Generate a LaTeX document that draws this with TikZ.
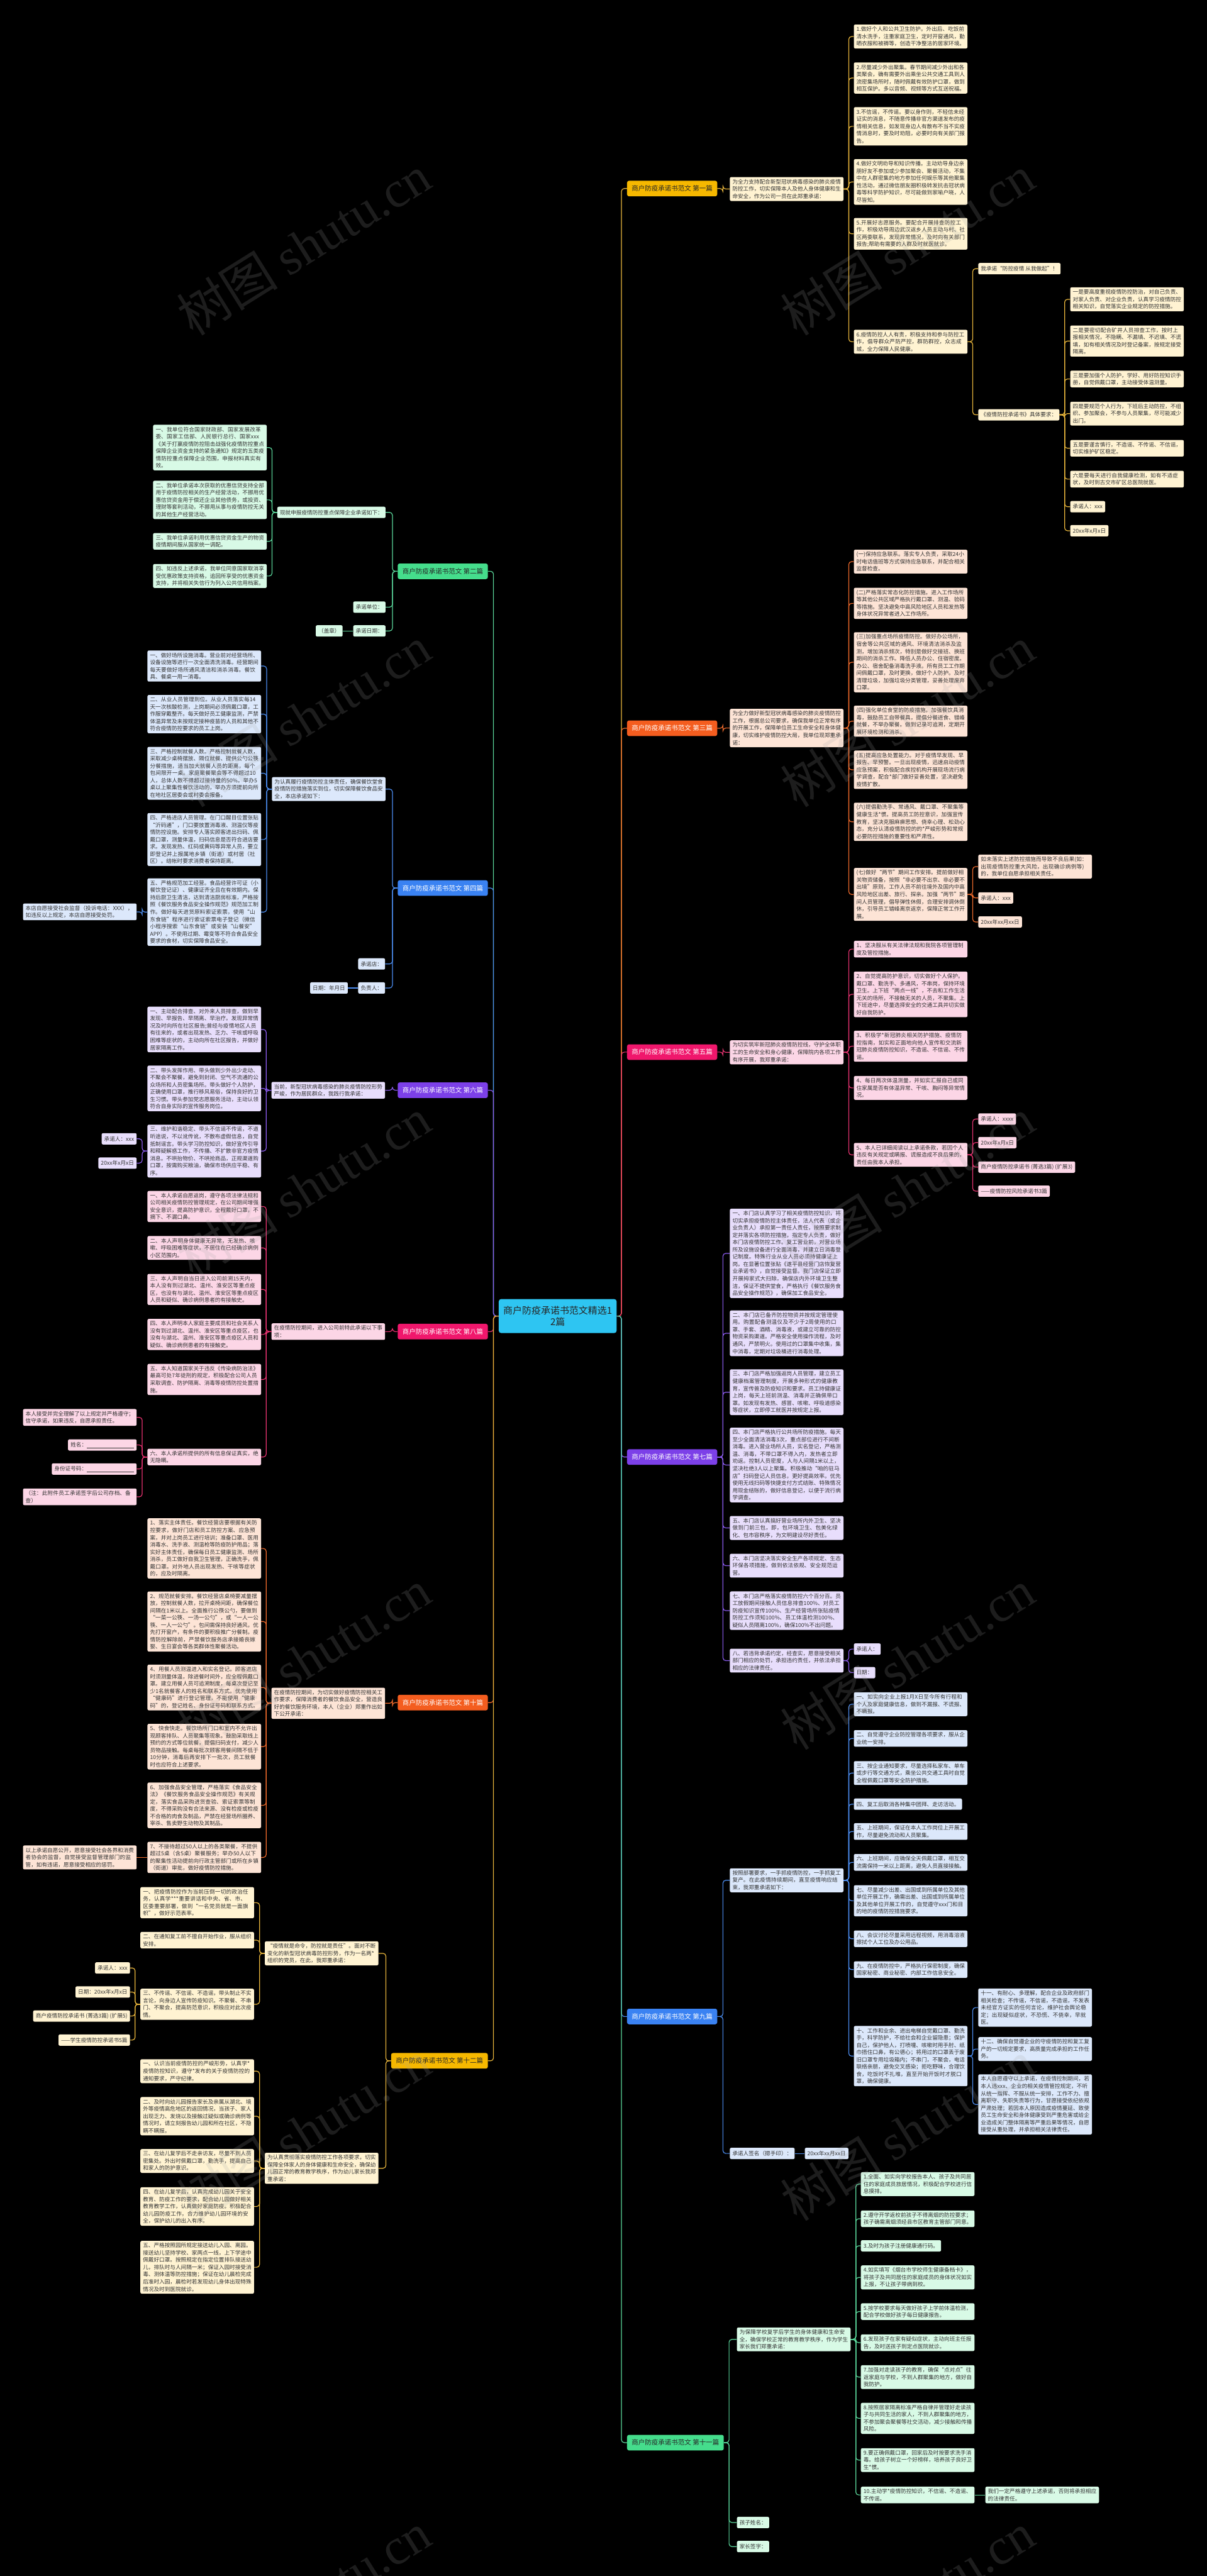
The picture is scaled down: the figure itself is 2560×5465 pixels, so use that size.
\documentclass[tikz,border=0pt]{standalone}
\usepackage{fontspec}
\setmainfont{Noto Sans CJK SC}
\newfontfamily\wmfont{Liberation Serif}
\XeTeXlinebreaklocale "zh"
\XeTeXlinebreakskip=0pt plus 1pt
\usetikzlibrary{positioning}
\definecolor{rootc}{HTML}{2EC5F2}
\definecolor{goldc}{HTML}{F6B800}
\definecolor{goldl}{HTML}{E9B63C}
\definecolor{goldf}{HTML}{FFF3D2}
\definecolor{greenc}{HTML}{45DD8C}
\definecolor{greenl}{HTML}{5AD69A}
\definecolor{greenf}{HTML}{D8FAE6}
\definecolor{orangec}{HTML}{F45D1F}
\definecolor{orangel}{HTML}{F06B2C}
\definecolor{orangef}{HTML}{FDE4D6}
\definecolor{bluec}{HTML}{3A82F2}
\definecolor{bluel}{HTML}{4C8DF0}
\definecolor{bluef}{HTML}{DCE8FB}
\definecolor{pinkc}{HTML}{F0176C}
\definecolor{pinkl}{HTML}{E63270}
\definecolor{pinkf}{HTML}{FCD6E6}
\definecolor{purplec}{HTML}{7C40E8}
\definecolor{purplel}{HTML}{8C5CF0}
\definecolor{purplef}{HTML}{E8DEFC}

\begin{document}
\begin{tikzpicture}[x=1pt,y=-1pt,
root/.style={fill=rootc,rounded corners=5pt,text=black!85,align=center,
font=\fontsize{20}{25}\selectfont,minimum width=250pt,minimum height=72pt,inner sep=4pt},
lab/.style={fill=#1,rounded corners=4pt,font=\fontsize{14}{17}\selectfont,
inner xsep=10pt,minimum height=33pt,text=white},
leaf/.style={fill=#1,rounded corners=3pt,font=\fontsize{11.5}{15.4}\selectfont,
text width=230pt,inner xsep=5.5pt,inner ysep=4.5pt,align=left,text=black!80},
tag/.style={fill=#1,rounded corners=3pt,font=\fontsize{11.5}{15.4}\selectfont,
inner xsep=5.5pt,inner ysep=4.5pt,minimum height=24pt,text=black!80},
ln/.style={draw=#1,line width=1.6pt,rounded corners=6pt},
wmark/.style={rotate=32,text=gray!70,opacity=0.18,font=\fontsize{108}{108}\selectfont}
]
\fill[black] (0,0) rectangle (2560,5465);
\useasboundingbox (0,0) rectangle (2560,5465);

\node[root] (root) at (1183,2792) {商户防疫承诺书范文精选1\\2篇};

% right branches
\node[lab=goldc,text=black!85,anchor=west] (b1) at (1330,400) {商户防疫承诺书范文 第一篇};
\node[lab=orangec,anchor=west] (b3) at (1330,1545) {商户防疫承诺书范文 第三篇};
\node[lab=pinkc,anchor=west] (b5) at (1330,2232) {商户防疫承诺书范文 第五篇};
\node[lab=purplec,anchor=west] (b7) at (1330,3091) {商户防疫承诺书范文 第七篇};
\node[lab=bluec,anchor=west] (b9) at (1330,4278) {商户防疫承诺书范文 第九篇};
\node[lab=greenc,text=black!85,anchor=west] (b11) at (1330,5182) {商户防疫承诺书范文 第十一篇};

% left branches
\node[lab=greenc,text=black!85,anchor=east] (b2) at (1035,1212) {商户防疫承诺书范文 第二篇};
\node[lab=bluec,anchor=east] (b4) at (1035,1884) {商户防疫承诺书范文 第四篇};
\node[lab=purplec,anchor=east] (b6) at (1035,2313) {商户防疫承诺书范文 第六篇};
\node[lab=pinkc,anchor=east] (b8) at (1035,2825) {商户防疫承诺书范文 第八篇};
\node[lab=orangec,anchor=east] (b10) at (1035,3612) {商户防疫承诺书范文 第十篇};
\node[lab=goldc,text=black!85,anchor=east] (b12) at (1035,4372) {商户防疫承诺书范文 第十二篇};

\foreach \b/\c in {b1/goldl,b3/orangel,b5/pinkl,b7/purplel,b9/bluel,b11/greenl}
  \draw[ln=\c] (root.east) -- ++(10,0) |- (\b.west);
\foreach \b/\c in {b2/greenl,b4/bluel,b6/purplel,b8/pinkl,b10/orangel,b12/goldl}
  \draw[ln=\c] (root.west) -- ++(-11,0) |- (\b.east);

% 第一篇
\node[leaf=goldf,anchor=west] (p1) at (1548,401) {为全力支持配合新型冠状病毒感染的肺炎疫情防控工作，切实保障本人及他人身体健康和生命安全，作为公司一员在此郑重承诺：};
\node[leaf=goldf,anchor=west] (p1a) at (1811,77.5) {1.做好个人和公共卫生防护。外出后、吃饭前清水洗手，注重家庭卫生，定时开窗通风，勤晒衣服和被褥等，创造干净整洁的居家环境。};
\node[leaf=goldf,anchor=west] (p1b) at (1811,165.5) {2.尽量减少外出聚集。春节期间减少外出和各类聚会，确有需要外出乘坐公共交通工具到人流密集场所时，随时佩戴有效防护口罩，做到相互保护。多以音频、视频等方式互送祝福。};
\node[leaf=goldf,anchor=west] (p1c) at (1811,268) {3.不信谣，不传谣。要以身作则，不轻信未经证实的消息，不随意传播非官方渠道发布的疫情相关信息，如发现身边人有散布不当不实疫情消息时，要及时劝阻，必要时向有关部门报告。};
\node[leaf=goldf,anchor=west] (p1d) at (1811,386) {4.做好文明劝导和知识传播。主动劝导身边亲朋好友不参加或少参加聚会、聚餐活动，不集中在人群密集的地方参加任何娱乐等其他聚集性活动，通过微信朋友圈积极转发抗击冠状病毒等科学防护知识，尽可能做到家喻户晓，人尽皆知。};
\node[leaf=goldf,anchor=west] (p1e) at (1811,496) {5.开展好志愿服务。要配合开展排查防控工作，积极劝导周边武汉返乡人员主动与村、社区两委联系，发现异常情况，及时向有关部门报告;帮助有需要的人群及时就医就诊。};
\node[leaf=goldf,anchor=west] (p1f) at (1811,725) {6.疫情防控人人有责，积极支持和参与防控工作，倡导群众严防严控，群防群控，众志成城，全力保障人民健康。};
\node[tag=goldf,anchor=west] (q1a) at (2075,570) {我承诺“防控疫情 从我做起”！};
\node[tag=goldf,anchor=west] (q1b) at (2075,880) {《疫情防控承诺书》具体要求：};
\node[leaf=goldf,anchor=west] (r1a) at (2270,635) {一是要高度重视疫情防控防治，对自己负责、对家人负责、对企业负责，认真学习疫情防控相关知识，自觉落实企业规定的防控措施。};
\node[leaf=goldf,anchor=west] (r1b) at (2270,723.5) {二是要密切配合矿井人员排查工作，按时上报相关情况，不隐瞒、不漏填、不迟填、不谎填，如有相关情况及时登记备案，按规定接受隔离。};
\node[leaf=goldf,anchor=west] (r1c) at (2270,804) {三是要加强个人防护，学好、用好防控知识手册，自觉佩戴口罩，主动接受体温测量。};
\node[leaf=goldf,anchor=west] (r1d) at (2270,877.5) {四是要规范个人行为，下班后主动防控，不组织、参加聚会，不参与人员聚集，尽可能减少出门。};
\node[leaf=goldf,anchor=west] (r1e) at (2270,951) {五是要谨言慎行，不造谣、不传谣、不信谣，切实维护矿区稳定。};
\node[leaf=goldf,anchor=west] (r1f) at (2270,1016.5) {六是要每天进行自我健康检测，如有不适症状，及时到古交市矿区总医院就医。};
\node[tag=goldf,anchor=west] (r1g) at (2270,1075) {承诺人：xxx};
\node[tag=goldf,anchor=west] (r1h) at (2270,1126) {20xx年x月x日};
\draw[ln=goldl] (b1.east) -- ++(12,0) |- (p1.west);
\foreach \n in {p1a,p1b,p1c,p1d,p1e,p1f} \draw[ln=goldl] (p1.east) -- ++(11,0) |- (\n.west);
\foreach \n in {q1a,q1b} \draw[ln=goldl] (p1f.east) -- ++(11,0) |- (\n.west);
\foreach \n in {r1a,r1b,r1c,r1d,r1e,r1f,r1g,r1h} \draw[ln=goldl] (q1b.east) -- ++(11,0) |- (\n.west);

% 第三篇
\node[leaf=orangef,anchor=west] (p3) at (1548,1544.5) {为全力做好新型冠状病毒感染的肺炎疫情防控工作，根据总公司要求，确保我单位正常有序的开展工作，保障单位员工生命安全和身体健康，切实维护疫情防控大局，我单位现郑重承诺：};
\node[leaf=orangef,anchor=west] (p3a) at (1811,1191.5) {(一)保持应急联系。落实专人负责，采取24小时电话值班等方式保持应急联系，并配合相关监督检查。};
\node[leaf=orangef,anchor=west] (p3b) at (1811,1280) {(二)严格落实常态化防控措施。进入工作场所等其他公共区域严格执行戴口罩、测温、验码等措施。坚决避免中高风险地区人员和发热等身体状况异常者进入工作场所。};
\node[leaf=orangef,anchor=west] (p3c) at (1811,1405) {(三)加强重点场所疫情防控。做好办公场所，宿舍等公共区域的通风、环境清洁消杀及监测，增加消杀频次，特别是做好交接班、换班期间的消杀工作。降低人员办公、住宿密度。办公、宿舍配备消毒洗手液。所有员工工作期间佩戴口罩，及时更换，做好个人防护。及时清理垃圾，加强垃圾分类管理，妥善处理废弃口罩。};
\node[leaf=orangef,anchor=west] (p3d) at (1811,1530) {(四)强化单位食堂的防疫措施。加强餐饮具消毒，鼓励员工自带餐具，提倡分餐进食、错峰就餐，不举办聚餐。做到记录可追溯，定期开展环境检测和消杀。};
\node[leaf=orangef,anchor=west] (p3e) at (1811,1633) {(五)提高应急处置能力。对于疫情早发现、早报告、早预警。一旦出现疫情，迅速启动疫情应急预案，积极配合疾控机构开展现场流行病学调查，配合*部门做好妥善处置，坚决避免疫情扩散。};
\node[leaf=orangef,anchor=west] (p3f) at (1811,1743.5) {(六)提倡勤洗手、常通风、戴口罩、不聚集等健康生活*惯。提高员工防控意识，加强宣传教育，坚决克服麻痹思想、侥幸心理、松劲心态，充分认清疫情防控的的*严峻形势和常规必要防控措施的重要性和严肃性。};
\node[leaf=orangef,anchor=west] (p3g) at (1811,1897.5) {(七)做好“两节”期间工作安排。提前做好相关物资储备，按照“非必要不出京、非必要不出境”原则，工作人员不前往境外及国内中高风险地区出差、旅行、探亲。加强“两节”期间人员管理，倡导弹性休假，合理安排调休倒休，引导员工错峰离京返京，保障正常工作开展。};
\node[leaf=orangef,anchor=west] (q3a) at (2075,1838.5) {如未落实上述防控措施而导致不良后果(如：出现疫情防控重大风险，出现确诊病例等)的，我单位自愿承担相关责任。};
\node[tag=orangef,anchor=west] (q3b) at (2075,1905) {承诺人：xxx};
\node[tag=orangef,anchor=west] (q3c) at (2075,1956) {20xx年xx月xx日};
\draw[ln=orangel] (b3.east) -- ++(12,0) |- (p3.west);
\foreach \n in {p3a,p3b,p3c,p3d,p3e,p3f,p3g} \draw[ln=orangel] (p3.east) -- ++(11,0) |- (\n.west);
\foreach \n in {q3a,q3b,q3c} \draw[ln=orangel] (p3g.east) -- ++(11,0) |- (\n.west);

% 第五篇
\node[leaf=pinkf,anchor=west] (p5) at (1548,2232.5) {为切实筑牢新冠肺炎疫情防控线，守护全体职工的生命安全和身心健康，保障院内各项工作有序开展，我郑重承诺：};
\node[leaf=pinkf,anchor=west] (p5a) at (1811,2013.5) {1、坚决服从有关法律法规和我院各项管理制度及管控措施。};
\node[leaf=pinkf,anchor=west] (p5b) at (1811,2109.5) {2、自觉提高防护意识，切实做好个人保护。戴口罩、勤洗手、多通风，不串岗，保持环境卫生。上下班“两点一线”，不去和工作生活无关的场所，不接触无关的人员，不聚集。上下班途中，尽量选择安全的交通工具并切实做好自我防护。};
\node[leaf=pinkf,anchor=west] (p5c) at (1811,2219.5) {3、积极学*新冠肺炎相关防护措施、疫情防控指南，如实和正面地向他人宣传和交流新冠肺炎疫情防控知识，不造谣、不信谣、不传谣。};
\node[leaf=pinkf,anchor=west] (p5d) at (1811,2308) {4、每日两次体温测量，并如实汇报自己或同住家属是否有体温异常、干咳、胸闷等异常情况。};
\node[leaf=pinkf,anchor=west] (p5e) at (1811,2450) {5、本人已详细阅读以上承诺条款，若因个人违反有关规定或瞒报、谎报造成不良后果的，责任由我本人承担。};
\node[tag=pinkf,anchor=west] (q5a) at (2075,2374) {承诺人：xxxx};
\node[tag=pinkf,anchor=west] (q5b) at (2075,2424) {20xx年x月x日};
\node[tag=pinkf,anchor=west] (q5c) at (2075,2476) {商户疫情防控承诺书 (菁选3篇) (扩展3)};
\node[tag=pinkf,anchor=west] (q5d) at (2075,2527) {——疫情防控风险承诺书3篇};
\draw[ln=pinkl] (b5.east) -- ++(12,0) |- (p5.west);
\foreach \n in {p5a,p5b,p5c,p5d,p5e} \draw[ln=pinkl] (p5.east) -- ++(11,0) |- (\n.west);
\foreach \n in {q5a,q5b,q5c,q5d} \draw[ln=pinkl] (p5e.east) -- ++(11,0) |- (\n.west);

% 第七篇
\node[leaf=purplef,anchor=west] (p7a) at (1548,2659) {一、本门店认真学习了相关疫情防控知识，将切实承担疫情防控主体责任，法人代表（或企业负责人）承担第一责任人责任，按照要求制定并落实各项防控措施，指定专人负责，做好本门店疫情防控工作。复工营业前，对营业场所及设施设备进行全面消毒，并建立日消毒登记制度。特殊行业从业人员必须持健康证上岗。在显著位置张贴《遂平县经营门店恢复营业承诺书》，自觉接受监督。我门店保证立即开展拇家式大扫除，确保店内外环境卫生整洁，保证不提供堂食，严格执行《餐饮服务食品安全操作规范》，确保加工食品安全。};
\node[leaf=purplef,anchor=west] (p7b) at (1548,2828.5) {二、本门店已备齐防控物资并按规定管理使用。购置配备测温仪及不少于2周使用的口罩、手套、酒精、消毒液，或建立可靠的防控物资采购渠道。严格安全使用操作流程，及时通风，严禁明火。使用过的口罩集中收集，集中消毒，定期对垃圾桶进行消毒处理。};
\node[leaf=purplef,anchor=west] (p7c) at (1548,2953.5) {三、本门店严格加强返岗人员管理，建立员工健康档案管理制度，开展多种形式的健康教育，宣传普及防疫知识和要求。员工持健康证上岗，每天上班前测温、消毒并正确佩带口罩。如发现有发热、感冒、咳嗽、呼吸道感染等症状，立即停工就医并按规定上报。};
\node[leaf=purplef,anchor=west] (p7d) at (1548,3108) {四、本门店严格执行公共场所防疫措施。每天至少全面清洁消毒3次，重点部位进行不间断消毒。进入营业场所人员，实名登记，严格测温、消毒，不带口罩不得入内，发热者立即劝返。控制人员密度，人与人间隔1米以上，坚决杜绝3人以上聚集。积极推动“咱的驻马店”扫码登记人员信息，更好提高效率。优先使用无线扫码等快捷支付方式结账、特殊情况用现金结账的，做好信息登记，以便于流行病学调查。};
\node[leaf=purplef,anchor=west] (p7e) at (1548,3241.5) {五、本门店认真搞好营业场所内外卫生、坚决做到门前三包，即，包环境卫生、包美化绿化、包市容秩序，为文明建设尽好责任。};
\node[leaf=purplef,anchor=west] (p7f) at (1548,3321.5) {六、本门店坚决落实安全生产各项规定、生态环保各项措施，做到依法依规、安全规范运营。};
\node[leaf=purplef,anchor=west] (p7g) at (1548,3417) {七、本门店严格落实疫情防控六个百分百。员工放假期间接触人员信息排查100\%、对员工防疫知识宣传100\%、生产经营场所张贴疫情防控工作须知100\%、员工体温检测100\%、疑似人员隔离100\%，确保100\%不出问题。};
\node[leaf=purplef,anchor=west] (p7h) at (1548,3523) {八、若违背承诺约定，经查实，愿意接受相关部门相应的处罚，承担违约责任，并依法承担相应的法律责任。};
\node[tag=purplef,anchor=west] (q7a) at (1811,3498.5) {承诺人：};
\node[tag=purplef,anchor=west] (q7b) at (1811,3548.5) {日期：};
\foreach \n in {p7a,p7b,p7c,p7d,p7e,p7f,p7g,p7h} \draw[ln=purplel] (b7.east) -- ++(12,0) |- (\n.west);
\foreach \n in {q7a,q7b} \draw[ln=purplel] (p7h.east) -- ++(11,0) |- (\n.west);

% 第九篇
\node[leaf=bluef,anchor=west] (p9) at (1548,3989) {按照部署要求，一手抓疫情防控，一手抓复工复产。在此疫情持续期间，直至疫情响应结束，我郑重承诺如下：};
\node[tag=bluef,anchor=west] (s9) at (1548,4568.5) {承诺人签名（摁手印）：};
\node[tag=bluef,anchor=west] (s9a) at (1707,4568.5) {20xx年xx月xx日};
\node[leaf=bluef,anchor=west] (p9a) at (1811,3615.5) {一、如实向企业上报1月X日至今所有行程和个人及家庭健康信息，做到不漏报、不谎报、不瞒报。};
\node[leaf=bluef,anchor=west] (p9b) at (1811,3688) {二、自觉遵守企业防控管理各项要求，服从企业统一安排。};
\node[leaf=bluef,anchor=west] (p9c) at (1811,3761.5) {三、按企业通知要求，尽量选择私家车、单车或步行等交通方式，乘坐公共交通工具时自觉全程佩戴口罩等安全防护措施。};
\node[tag=bluef,anchor=west] (p9d) at (1811,3827.5) {四、复工后取消各种集中团拜、走访活动。};
\node[leaf=bluef,anchor=west] (p9e) at (1811,3885.5) {五、上班期间，保证在本人工作岗位上开展工作，尽量避免流动和人员聚集。};
\node[leaf=bluef,anchor=west] (p9f) at (1811,3951) {六、上班期间，应确保全天佩戴口罩，相互交流需保持一米以上距离，避免人员直接接触。};
\node[leaf=bluef,anchor=west] (p9g) at (1811,4032.5) {七、尽量减少出差、出国或到所属单位及其他单位开展工作，确需出差、出国或到所属单位及其他单位开展工作的，自觉遵守xxx门和目的地的疫情防控措施要求。};
\node[leaf=bluef,anchor=west] (p9h) at (1811,4113) {八、会议讨论尽量采用远程视频，用消毒溶液擦拭个人工位及办公用品。};
\node[leaf=bluef,anchor=west] (p9i) at (1811,4178.5) {九、在疫情防控中，严格执行保密制度，确保国家秘密、商业秘密、内部工作信息安全。};
\node[leaf=bluef,anchor=west] (p9j) at (1811,4362) {十、工作和业余、进出电梯自觉戴口罩、勤洗手，科学防护，不给社会和企业留隐患；保护自己，保护他人，打喷嚏、咳嗽时用手肘、纸巾捂住口鼻，有公德心；将用过的口罩丢于废旧口罩专用垃圾箱内；不串门，不聚会，电话联络亲朋，避免交叉感染；拒吃野味，合理饮食，吃饭时不扎堆，直至开始开饭时才脱口罩，确保健康。};
\node[leaf=bluef,anchor=west] (q9a) at (2075,4259) {十一、有耐心、多理解，配合企业及政府部门相关检查；不传谣，不信谣，不造谣，不发表未经官方证实的任何言论，维护社会舆论稳定；出现疑似症状，不恐慌、不侥幸，早就医。};
\node[leaf=bluef,anchor=west] (q9b) at (2075,4347) {十二、确保自觉遵企业的守疫情防控和复工复产的一切规定要求，高质量完成承担的工作任务。};
\node[leaf=bluef,anchor=west] (q9c) at (2075,4464.5) {本人自愿遵守以上承诺，在疫情控制期间，若本人违xxx、企业的相关疫情管控规定，不听从统一指挥、不服从统一安排，工作不力、擅离职守、失职失责等行为，甘愿接受依纪依规严肃处理；若因本人原因造成疫情蔓延、致使员工生命安全和身体健康受到严重危害或给企业造成关门整体隔离等严重后果等情况，自愿接受从重处理，并承担相关法律责任。};
\foreach \n in {p9,s9} \draw[ln=bluel] (b9.east) -- ++(12,0) |- (\n.west);
\draw[ln=bluel] (s9.east) -- (s9a.west);
\foreach \n in {p9a,p9b,p9c,p9d,p9e,p9f,p9g,p9h,p9i,p9j} \draw[ln=bluel] (p9.east) -- ++(11,0) |- (\n.west);
\foreach \n in {q9a,q9b,q9c} \draw[ln=bluel] (p9j.east) -- ++(11,0) |- (\n.west);

% 第十一篇
\node[leaf=greenf,anchor=west] (p11) at (1563,4963) {为保障学校复学后学生的身体健康和生命安全，确保学校正常的教育教学秩序，作为学生家长我们郑重承诺：};
\node[tag=greenf,anchor=west] (s11a) at (1563,5351.5) {孩子姓名：};
\node[tag=greenf,anchor=west] (s11b) at (1563,5402.5) {家长签字：};
\node[leaf=greenf,anchor=west] (p11a) at (1826,4633.5) {1.全面、如实向学校报告本人、孩子及共同居住的家庭成员旅居情况，积极配合学校进行信息摸排。};
\node[leaf=greenf,anchor=west] (p11b) at (1826,4707) {2.遵守开学返校前孩子不得离烟的防控要求；孩子确需离烟须经县市区教育主管部门同意。};
\node[tag=greenf,anchor=west] (p11c) at (1826,4764.5) {3.及时为孩子注册健康通行码。};
\node[leaf=greenf,anchor=west] (p11d) at (1826,4831.5) {4.如实填写《烟台市学校师生健康备档卡》，将孩子及共同居住的家庭成员的身体状况如实上报，不让孩子带病到校。};
\node[leaf=greenf,anchor=west] (p11e) at (1826,4904) {5.按学校要求每天做好孩子上学前体温检测，配合学校做好孩子每日健康报告。};
\node[leaf=greenf,anchor=west] (p11f) at (1826,4970) {6.发现孩子在家有疑似症状，主动向班主任报告，及时送孩子到定点医院就诊。};
\node[leaf=greenf,anchor=west] (p11g) at (1826,5043) {7.加强对走读孩子的教育，确保“点对点”往返家庭与学校，不到人群聚集的地方，做好自我防护。};
\node[leaf=greenf,anchor=west] (p11h) at (1826,5130.5) {8.按照居家隔离标准严格自律并管理好走读孩子与共同生活的家人，不到人群聚集的地方，不参加聚会聚餐等社交活动，减少接触和传播风险。};
\node[leaf=greenf,anchor=west] (p11i) at (1826,5219) {9.要正确佩戴口罩，回家后及时按要求洗手消毒。给孩子树立一个好榜样，培养孩子良好卫生*惯。};
\node[leaf=greenf,anchor=west] (p11j) at (1826,5293) {10.主动学*疫情防控知识，不信谣、不造谣、不传谣。};
\node[leaf=greenf,anchor=west] (q11a) at (2090,5293) {我们一定严格遵守上述承诺，否则将承担相应的法律责任。};
\foreach \n in {p11,s11a,s11b} \draw[ln=greenl] (b11.east) -- ++(11,0) |- (\n.west);
\foreach \n in {p11a,p11b,p11c,p11d,p11e,p11f,p11g,p11h,p11i,p11j} \draw[ln=greenl] (p11.east) -- ++(11,0) |- (\n.west);
\draw[ln=greenl] (p11j.east) -- (q11a.west);

% 第二篇
\node[tag=greenf,anchor=east] (p2) at (818,1087) {现就申报疫情防控重点保障企业承诺如下：};
\node[tag=greenf,anchor=east] (s2a) at (818,1288) {承诺单位：};
\node[tag=greenf,anchor=east] (s2b) at (818,1338.5) {承诺日期：};
\node[tag=greenf,anchor=east] (s2c) at (727,1338.5) {（盖章）};
\node[leaf=greenf,anchor=east] (p2a) at (566,949.5) {一、我单位符合国家财政部、国家发展改革委、国家工信部、人民银行总行、国家xxx《关于打赢疫情防控阻击战强化疫情防控重点保障企业资金支持的紧急通知》规定的五类疫情防控重点保障企业范围，申报材料真实有效。};
\node[leaf=greenf,anchor=east] (p2b) at (566,1060.5) {二、我单位承诺本次获取的优惠信贷支持全部用于疫情防控相关的生产经营活动，不挪用优惠信贷资金用于偿还企业其他债务，或投资、理财等套利活动，不挪用从事与疫情防控无关的其他生产经营活动。};
\node[leaf=greenf,anchor=east] (p2c) at (566,1148.5) {三、我单位承诺利用优惠信贷资金生产的物资疫情期间服从国家统一调配。};
\node[leaf=greenf,anchor=east] (p2d) at (566,1222) {四、如违反上述承诺，我单位同意国家取消享受优惠政策支持资格，追回所享受的优惠资金支持，并将相关失信行为列入公共信用档案。};
\foreach \n in {p2,s2a,s2b} \draw[ln=greenl] (b2.west) -- ++(-11,0) |- (\n.east);
\draw[ln=greenl] (s2b.west) -- (s2c.east);
\foreach \n in {p2a,p2b,p2c,p2d} \draw[ln=greenl] (p2.west) -- ++(-11,0) |- (\n.east);

% 第四篇
\node[leaf=bluef,anchor=east] (p4) at (818,1674) {为认真履行疫情防控主体责任，确保餐饮堂食疫情防控措施落实到位，切实保障餐饮食品安全，本店承诺如下：};
\node[tag=bluef,anchor=east] (s4a) at (817,2045) {承诺店：};
\node[tag=bluef,anchor=east] (s4b) at (817,2096) {负责人：};
\node[tag=bluef,anchor=east] (s4c) at (738,2096) {日期：年月日};
\node[leaf=bluef,anchor=east] (p4a) at (554,1413) {一、做好场所设施消毒。营业前对经营场所、设备设施等进行一次全面清洗消毒。经营期间每天要做好场所通风清洁和消杀消毒。餐饮具、餐桌一用一消毒。};
\node[leaf=bluef,anchor=east] (p4b) at (554,1515) {二、从业人员管理到位。从业人员落实每14天一次核酸检测，上岗期间必须佩戴口罩，工作服穿戴整齐。每天做好员工健康监测，严禁体温异常及未按规定接种疫苗的人员和其他不符合疫情防控要求的员工上岗。};
\node[leaf=bluef,anchor=east] (p4c) at (554,1640.5) {三、严格控制就餐人数。严格控制就餐人数，采取减少桌椅摆放、隔位就餐、提供公勺公筷分餐措施，适当加大就餐人员的距离，每个包间限开一桌。家庭聚餐聚会等不得超过10人，总体人数不得超过接待量的50\%。举办5桌以上聚集性餐饮活动的，举办方须提前向所在地社区居委会或村委会报备。};
\node[leaf=bluef,anchor=east] (p4d) at (554,1781) {四、严格进店人员管理。在门口醒目位置张贴“沂码通”，门口要放置消毒液、测温仪等疫情防控设施。安排专人落实顾客进出扫码、佩戴口罩，测量体温，扫码信息是否符合进店要求。发现发热、红码或黄码等异常人员，要立即登记并上报属地乡镇（街道）或村居（社区）。结帐时要求消费者保持距离。};
\node[leaf=bluef,anchor=east] (p4e) at (554,1935) {五、严格规范加工经营。食品经营许可证（小餐饮登记证）、健康证齐全且在有效期内。保持后厨卫生清洁，达到清洁厨房标准，严格按照《餐饮服务食品安全操作规范》规范加工制作。做好每天进货原料索证索票，使用“山东食链”程序进行索证索票电子登记（微信小程序搜索“山东食链”或安装“山餐安”APP）。不使用过期、霉变等不符合食品安全要求的食材，切实保障食品安全。};
\node[leaf=bluef,anchor=east] (q4a) at (290,1934.5) {本店自愿接受社会监督（投诉电话：XXX），如违反以上规定，本店自愿接受处罚。};
\foreach \n in {p4,s4a,s4b} \draw[ln=bluel] (b4.west) -- ++(-11,0) |- (\n.east);
\draw[ln=bluel] (s4b.west) -- (s4c.east);
\foreach \n in {p4a,p4b,p4c,p4d,p4e} \draw[ln=bluel] (p4.west) -- ++(-11,0) |- (\n.east);
\draw[ln=bluel] (p4e.west) -- ++(-11,0) |- (q4a.east);

% 第六篇
\node[leaf=purplef,anchor=east] (p6) at (817,2313) {当前，新型冠状病毒感染的肺炎疫情防控形势严峻，作为居民群众，我践行我承诺：};
\node[leaf=purplef,anchor=east] (p6a) at (554,2184) {一、主动配合排查、对外来人员排查，做到早发现、早报告、早隔离、早治疗。发现异常情况及时向所在社区报告;曾经与疫情地区人员有往来的，或者出现发热、乏力、干咳或呼吸困难等症状的，主动向所在社区报告，并做好居家隔离工作。};
\node[leaf=purplef,anchor=east] (p6b) at (554,2309) {二、带头发挥作用、带头做到少外出少走动、不聚会不聚餐，避免到封闭、空气不流通的公众场所和人员密集场所。带头做好个人防护，正确使用口罩，推行移风易俗，保持良好的卫生习惯。带头参加党志愿服务活动，主动认领符合自身实际的宣传服务岗位。};
\node[leaf=purplef,anchor=east] (p6c) at (554,2442) {三、维护和谐稳定、带头不信谣不传谣，不道听途说，不以讹传讹，不散布虚假信息，自觉抵制谣言。带头学习防控知识，做好宣传引导和释疑解惑工作，不传播、不扩散非官方疫情消息。不哄抬物价、不哄抢商品，正规渠道购口罩，按需购买粮油，确保市场供应平稳、有序。};
\node[tag=purplef,anchor=east] (q6a) at (290,2416) {承诺人：xxx};
\node[tag=purplef,anchor=east] (q6b) at (290,2467.5) {20xx年x月x日};
\draw[ln=purplel] (b6.west) -- ++(-11,0) |- (p6.east);
\foreach \n in {p6a,p6b,p6c} \draw[ln=purplel] (p6.west) -- ++(-11,0) |- (\n.east);
\foreach \n in {q6a,q6b} \draw[ln=purplel] (p6c.west) -- ++(-11,0) |- (\n.east);

% 第八篇
\node[leaf=pinkf,anchor=east] (p8) at (817,2825) {在疫情防控期间，进入公司前特此承诺以下事项：};
\node[leaf=pinkf,anchor=east] (p8a) at (554,2559.5) {一、本人承诺自愿返岗，遵守各项法律法规和公司相关疫情防控管理规定，在公司期间增强安全意识，提高防护意识，全程戴好口罩，不摘下、不漏口鼻。};
\node[leaf=pinkf,anchor=east] (p8b) at (554,2647.5) {二、本人声明身体健康无异常，无发热、咳嗽、呼吸困难等症状，不居住在已经确诊病例小区范围内。};
\node[leaf=pinkf,anchor=east] (p8c) at (554,2735.5) {三、本人声明自当日进入公司前溯15天内，本人没有到过湖北、温州、淮安区等重点疫区，也没有与湖北、温州、淮安区等重点疫区人员和疑似、确诊病例患者的有接触史。};
\node[leaf=pinkf,anchor=east] (p8d) at (554,2831) {四、本人声明本人家庭主要成员和社会关系人没有到过湖北、温州、淮安区等重点疫区，也没有与湖北、温州、淮安区等重点疫区人员和疑似、确诊病例患者的有接触史。};
\node[leaf=pinkf,anchor=east] (p8e) at (554,2926.5) {五、本人知道国家关于违反《传染病防治法》最高可处7年徒刑的规定，积极配合公司人员采取调查、防护隔离、消毒等疫情防控处置措施。};
\node[leaf=pinkf,anchor=east] (p8f) at (554,3091) {六、本人承诺所提供的所有信息保证真实，绝无隐瞒。};
\node[leaf=pinkf,anchor=east] (q8a) at (290,3007) {本人接受并完全理解了以上规定并严格遵守；信守承诺，如果违反，自愿承担责任。};
\node[tag=pinkf,anchor=east] (q8b) at (290,3065.5) {姓名：\rule[-2pt]{100pt}{0.6pt}};
\node[tag=pinkf,anchor=east] (q8c) at (290,3116.5) {身份证号码：\rule[-2pt]{100pt}{0.6pt}};
\node[leaf=pinkf,anchor=east] (q8d) at (290,3175.5) {（注：此附件员工承诺签字后公司存档、备查）};
\draw[ln=pinkl] (b8.west) -- ++(-11,0) |- (p8.east);
\foreach \n in {p8a,p8b,p8c,p8d,p8e,p8f} \draw[ln=pinkl] (p8.west) -- ++(-11,0) |- (\n.east);
\foreach \n in {q8a,q8b,q8c,q8d} \draw[ln=pinkl] (p8f.west) -- ++(-11,0) |- (\n.east);

% 第十篇
\node[leaf=orangef,anchor=east] (p10) at (817,3613.5) {在疫情防控期间，为切实做好疫情防控相关工作要求，保障消费者的餐饮食品安全，营造良好的餐饮服务环境，本人（企业）郑重作出如下公开承诺：};
\node[leaf=orangef,anchor=east] (p10a) at (554,3285) {1、落实主体责任。餐饮经营店要根据有关防控要求，做好门店和员工防控方案、应急预案，并对上岗员工进行培训；准备口罩、医用消毒水、洗手液、测温枪等防疫防护用品；落实好主体责任，确保每日员工健康监测、场所消杀，员工做好自我卫生管理，正确洗手，佩戴口罩。对外地人员出现发热、干咳等症状的，应及时隔离。};
\node[leaf=orangef,anchor=east] (p10b) at (554,3440) {2、规范就餐安排。餐饮经营店桌椅要减量摆放，控制就餐人数，拉开桌椅间距，确保餐位间隔在1米以上。全面推行公筷公勺，要做到“一菜一公筷、一汤一公勺”，或“一人一公筷、一人一公勺”。包间需保持良好通风，优先打开窗户，有条件的要积极推广分餐制。疫情防控解除前，严禁餐饮服务店承接婚丧嫁娶、生日宴会等各类群体性聚餐活动。};
\node[leaf=orangef,anchor=east] (p10c) at (554,3580) {4、用餐人员测温进入和实名登记。顾客进店时须测量体温，除进餐时间外，应全程佩戴口罩。建立用餐人员可追溯制度，每桌次登记至少1名就餐客人的姓名和联系方式。优先使用“健康码”进行登记管理，不能使用“健康码”的，登记姓名、身份证号码和联系方式。};
\node[leaf=orangef,anchor=east] (p10d) at (554,3705.5) {5、快食快走。餐饮场所门口和室内不允许出现顾客排队、人员聚集等现象。鼓励采取线上预约的方式等位就餐，提倡扫码支付，减少人员物品接触。每桌每批次顾客用餐间隔不低于10分钟，消毒后再安排下一批次，员工就餐时也应符合上述要求。};
\node[leaf=orangef,anchor=east] (p10e) at (554,3830) {6、加强食品安全管理，严格落实《食品安全法》《餐饮服务食品安全操作规范》有关规定，落实食品采购进货查验、索证索票等制度，不得采购没有合法来源、没有检疫或检疫不合格的肉食及制品，严禁在经营场所圈养、宰杀、售卖野生动物及其制品。};
\node[leaf=orangef,anchor=east] (p10f) at (554,3940.5) {7、不接待超过50人以上的各类聚餐，不提供超过5桌（含5桌）聚餐服务；举办50人以下的聚集性活动提前向行政主管部门或所在乡镇（街道）审批，做好疫情防控措施。};
\node[leaf=orangef,anchor=east] (q10a) at (290,3940.5) {以上承诺自愿公开，愿意接受社会各界和消费者协会的监督，自觉接受监督管理部门的监管，如有违诺，愿意接受相应的惩罚。};
\draw[ln=orangel] (b10.west) -- ++(-11,0) |- (p10.east);
\foreach \n in {p10a,p10b,p10c,p10d,p10e,p10f} \draw[ln=orangel] (p10.west) -- ++(-11,0) |- (\n.east);
\draw[ln=orangel] (p10f.west) -- (q10a.east);

% 第十二篇
\node[leaf=goldf,anchor=east] (p12) at (803,4144) {“疫情就是命令，防控就是责任”。面对不断变化的新型冠状病毒防控形势，作为一名两*组织的党员，在此，我郑重承诺：};
\node[leaf=goldf,anchor=east] (t12) at (803,4600) {为认真贯彻落实疫情防控工作各项要求，切实保障全体家人的身体健康和生命安全，确保幼儿园正常的教育教学秩序，作为幼儿家长我郑重承诺：};
\node[leaf=goldf,anchor=east] (p12a) at (539,4036.5) {一、把疫情防控作为当前压倒一切的政治任务，认真学***重要讲话和中央、省、市、区委重要部署，做到“一名党员就是一面旗帜”，做好示范表率。};
\node[leaf=goldf,anchor=east] (p12b) at (539,4116) {二、在通知复工前不擅自开始作业，服从组织安排。};
\node[leaf=goldf,anchor=east] (p12c) at (539,4252) {三、不传谣、不信谣、不造谣，带头制止不实言论，向身边人宣传防疫知识。不聚餐、不串门、不聚会，提高防范意识，积极应对此次疫情。};
\node[tag=goldf,anchor=east] (q12a) at (276,4175) {承诺人：xxx};
\node[tag=goldf,anchor=east] (q12b) at (276,4226) {日期：20xx年x月x日};
\node[tag=goldf,anchor=east] (q12c) at (276,4277) {商户疫情防控承诺书 (菁选3篇) (扩展5)};
\node[tag=goldf,anchor=east] (q12d) at (276,4328) {——学生疫情防控承诺书5篇};
\node[leaf=goldf,anchor=east] (t12a) at (539,4394) {一、认识当前疫情防控的严峻形势，认真学*疫情防控知识，遵守*发布的关于疫情防控的通知要求，严守纪律。};
\node[leaf=goldf,anchor=east] (t12b) at (539,4489.5) {二、及时向幼儿园报告家长及亲属从湖北、境外等疫情高危地区的返回情况，当孩子、家人出现乏力、发烧以及接触过疑似或确诊病例等情况时，请立刻报告幼儿园和所在社区，不隐瞒不瞒报。};
\node[leaf=goldf,anchor=east] (t12c) at (539,4584.5) {三、在幼儿复学后不走亲访友，尽量不到人员密集处。外出时佩戴口罩，勤洗手，提高自己和家人的防护意识。};
\node[leaf=goldf,anchor=east] (t12d) at (539,4681) {四、在幼儿复学后，认真完成幼儿园关于安全教育、防疫工作的要求，配合幼儿园做好相关教育教学工作，认真做好家庭防疫。积极配合幼儿园防疫工作，合力维护幼儿园环境的安全，保护幼儿的出入有序。};
\node[leaf=goldf,anchor=east] (t12e) at (539,4810) {五、严格按照园所规定接送幼儿入园、离园。接送幼儿坚持学校、家两点一线，上下学途中佩戴好口罩。按照规定在指定位置排队接送幼儿，排队时与人间隔一米；保证入园时接受消毒、测体温等防控措施；保证在幼儿晨检完成后准时入园，晨检时若发现幼儿身体出现特殊情况及时到医院就诊。};
\foreach \n in {p12,t12} \draw[ln=goldl] (b12.west) -- ++(-11,0) |- (\n.east);
\foreach \n in {p12a,p12b,p12c} \draw[ln=goldl] (p12.west) -- ++(-11,0) |- (\n.east);
\foreach \n in {q12a,q12b,q12c,q12d} \draw[ln=goldl] (p12c.west) -- ++(-11,0) |- (\n.east);
\foreach \n in {t12a,t12b,t12c,t12d,t12e} \draw[ln=goldl] (t12.west) -- ++(-11,0) |- (\n.east);

% watermark
\foreach \y in {520,1520,2520,3520,4520,5520} {
  \node[wmark] at (644,\y) {树图 {\wmfont shutu.cn}};
  \node[wmark] at (1925,\y) {树图 {\wmfont shutu.cn}};
}
\end{tikzpicture}
\end{document}
